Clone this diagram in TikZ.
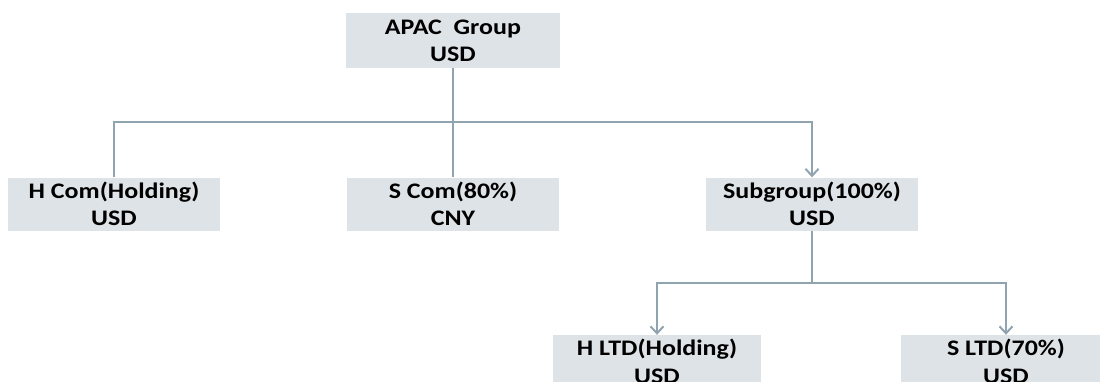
\documentclass[tikz,border=0pt]{standalone}
\usepackage{fontspec}
\setmainfont{Carlito}
\newfontfamily\boxfont{Carlito}[FakeStretch=1.17]
\usetikzlibrary{arrows.meta}
\definecolor{boxfill}{HTML}{DDE3E6}
\definecolor{linec}{HTML}{8FA4AF}
\tikzset{
  orgbox/.style={fill=boxfill, draw=none, inner sep=0pt, minimum width=212pt, minimum height=53pt,
    align=center, font=\boxfont\fontsize{22.2}{27.4}\selectfont\bfseries},
  conn/.style={draw=linec, line width=2.4pt},
  arr/.style={conn, -{Straight Barb[length=7pt,width=13pt,line width=2pt]}}
}
\begin{document}
\begin{tikzpicture}[x=1pt,y=1pt]
\useasboundingbox (0,0) rectangle (1100,-381);
\clip (0,0) rectangle (1100,-381);
\node[orgbox, minimum width=214pt, minimum height=55pt] (apac) at (453,-40.5) {APAC\ \ Group\\USD};
\node[orgbox] (hcom) at (114,-204) {H Com(Holding)\\USD};
\node[orgbox] (scom) at (453,-204) {S Com(80\%)\\CNY};
\node[orgbox] (sub) at (812,-204) {Subgroup(100\%)\\USD};
\node[orgbox, minimum width=208pt] (hltd) at (657,-361.5) {H LTD(Holding)\\USD};
\node[orgbox, minimum width=210pt] (sltd) at (1006,-361.5) {S LTD(70\%)\\USD};
\coordinate (bus1) at (453,-122);
\coordinate (bus2) at (812,-283);
\draw[conn] (apac.south) -- (bus1);
\draw[conn] (bus1) -| (hcom.north);
\draw[conn] (bus1) -- (scom.north);
\draw[arr] (bus1) -| (sub.north);
\draw[conn] (sub.south) -- (bus2);
\draw[arr] (bus2) -| (hltd.north);
\draw[arr] (bus2) -| (sltd.north);
\end{tikzpicture}
\end{document}
